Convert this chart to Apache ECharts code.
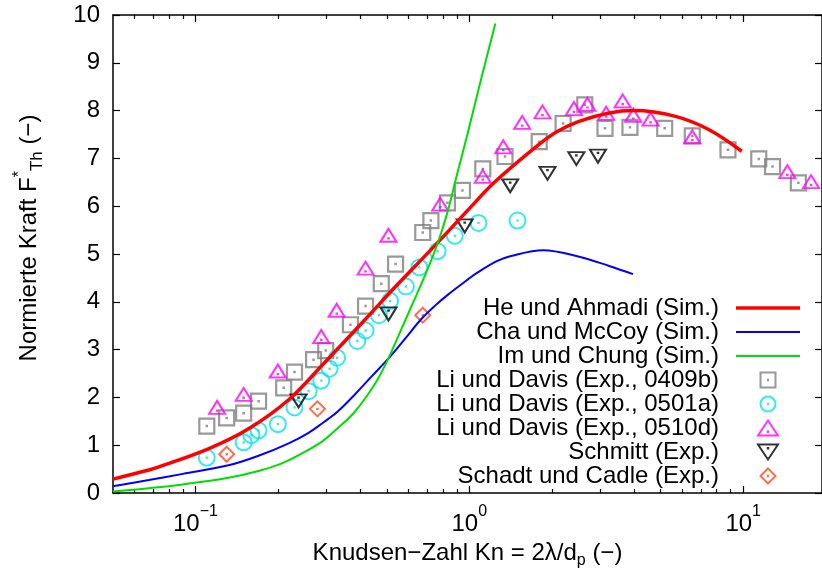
<!DOCTYPE html>
<html>
<head>
<meta charset="utf-8">
<script src="https://cdn.jsdelivr.net/npm/echarts@6/dist/echarts.min.js"></script>
<style>
html,body{margin:0;padding:0;background:#fff}
#chart{width:822px;height:574px}
</style>
</head>
<body>
<div id="chart"></div>
<script>
// Knudsen number / normalised force
var heAhmadiKn = [0.05,0.0676,0.074,0.112,0.157,0.219,0.293,0.415,0.538,0.741,1.0,1.23,1.76,2.08,2.5,3.24,4.0,5.66,7.51,9.88];
var heAhmadiF  = [0.29,0.48,0.55,0.93,1.35,1.95,2.70,3.62,4.32,5.15,5.95,6.49,7.25,7.55,7.77,7.95,8.00,7.88,7.60,7.15];

var chaMcCoyKn = [0.05,0.0676,0.09,0.132,0.17,0.219,0.259,0.289,0.33,0.382,0.44,0.506,0.585,0.668,0.75,0.836,0.989,1.07,1.26,1.42,1.86,2.46,3.24,3.96];
var chaMcCoyF  = [0.14,0.27,0.40,0.58,0.78,1.04,1.26,1.45,1.70,2.06,2.44,2.81,3.24,3.64,3.92,4.15,4.47,4.61,4.85,4.96,5.08,4.96,4.75,4.58];

var imChungKn = [0.05,0.0676,0.09,0.132,0.17,0.207,0.238,0.289,0.33,0.382,0.452,0.506,0.565,0.632,0.697,0.766,0.83,0.90,0.984,1.1,1.245];
var imChungF  = [0.03,0.10,0.18,0.32,0.46,0.62,0.79,1.07,1.35,1.70,2.28,2.81,3.43,4.06,4.62,5.22,5.85,6.64,7.50,8.62,9.82];

var li0409bKn = [0.110,0.130,0.150,0.170,0.210,0.230,0.270,0.299,0.368,0.418,0.477,0.538,0.676,0.724,0.832,0.944,1.12,1.35,1.80,2.20,2.64,3.13,3.86,5.17,6.52,8.80,11.4,12.8,15.9];
var li0409bF  = [1.40,1.57,1.67,1.92,2.20,2.53,2.79,2.98,3.52,3.91,4.38,4.79,5.45,5.70,6.07,6.33,6.78,7.04,7.35,7.73,8.12,7.63,7.65,7.63,7.47,7.18,6.99,6.83,6.49];

var li0501aKn = [0.110,0.150,0.160,0.170,0.200,0.230,0.259,0.288,0.309,0.329,0.390,0.418,0.468,0.514,0.587,0.657,0.766,0.885,1.08,1.50];
var li0501aF  = [0.74,1.06,1.21,1.31,1.44,1.79,2.13,2.35,2.60,2.83,3.18,3.40,3.72,4.02,4.32,4.72,5.06,5.38,5.65,5.70];

var li0510dKn = [0.120,0.150,0.200,0.288,0.328,0.418,0.507,0.783,1.12,1.33,1.56,1.85,2.41,2.70,3.16,3.63,3.97,4.59,6.52,14.5,17.7];
var li0510dF  = [1.73,2.00,2.49,3.21,3.76,4.64,5.33,5.98,6.56,7.18,7.69,7.91,7.98,8.07,7.88,8.14,7.84,7.76,7.39,6.66,6.45];

var schmittKn = [0.238,0.507,0.962,1.41,1.93,2.46,2.95];
var schmittF  = [1.99,3.81,5.65,6.49,6.75,7.06,7.11];

var schadtKn = [0.130,0.279,0.676];
var schadtF  = [0.81,1.76,3.72];

var xMajorTicks = [0.1, 1, 10];
var xMinorTicks = [0.06,0.07,0.08,0.09,0.2,0.3,0.4,0.5,0.6,0.7,0.8,0.9,2,3,4,5,6,7,8,9];
var xMin = 0.05, xMax = 19.4;

function pairs(xs, ys) {
    var out = [];
    for (var i = 0; i < xs.length; i++) out.push([xs[i], ys[i]]);
    return out;
}

var font = '"Liberation Sans", Arial, sans-serif';
var fs = 24;

// hollow gnuplot-like markers with a centre dot
var symSquare  = 'path://M0,0H20V20H0Z M9.8,9.8H10.2V10.2H9.8Z';
var symCircle  = 'path://M0,10A10,10 0 1,0 20,10A10,10 0 1,0 0,10Z M9.8,9.8H10.2V10.2H9.8Z';
var symTri     = 'path://M0,12L8,0L16,12Z M7.8,8.8H8.2V9.2H7.8Z';
var symTriDown = 'path://M0,0L16,0L8,12Z M7.8,2.8H8.2V3.2H7.8Z';
var symDiamond = 'path://M7,0L14,7L7,14L0,7Z M6.8,6.8H7.2V7.2H6.8Z';

function logAxis(pos, ticks, len, main) {
    return {
        type: 'log', logBase: 10, min: xMin, max: xMax, position: pos,
        axisLine: {show: main, onZero: false, lineStyle: {color: '#000', width: 1.5}},
        axisTick: {show: true, inside: true, length: len, customValues: ticks, lineStyle: {color: '#000', width: 1.2}},
        axisLabel: {show: false},
        splitLine: {show: false}, minorTick: {show: false}, minorSplitLine: {show: false}
    };
}

var xBottom = logAxis('bottom', xMajorTicks, 7, true);
xBottom.axisLabel = {
    show: true, customValues: xMajorTicks, margin: 11,
    formatter: function (v) {
        var e = Math.round(Math.log(v) / Math.LN10);
        return '{b|10}{e|' + (e < 0 ? '\u2212' + (-e) : e) + '}';
    },
    rich: {
        b: {fontSize: fs, fontFamily: font, color: '#000', lineHeight: 32, verticalAlign: 'bottom'},
        e: {fontSize: 16, fontFamily: font, color: '#000', lineHeight: 32, verticalAlign: 'top'}
    }
};
xBottom.name = '{n|Knudsen\u2212Zahl Kn = 2\u03bb/d}{s|p}{n| (\u2212)}';
xBottom.nameLocation = 'middle';
xBottom.nameGap = 44;
xBottom.nameTextStyle = {
    rich: {
        n: {fontSize: fs, fontFamily: font, color: '#000', lineHeight: 32, verticalAlign: 'middle'},
        s: {fontSize: 16, fontFamily: font, color: '#000', lineHeight: 32, verticalAlign: 'bottom'}
    }
};

function lineLegend(name, h) {
    return {name: name, icon: 'path://M0,0H64V' + h + 'H0Z', itemStyle: {borderWidth: 0}};
}

var option = {
    animation: false,
    textStyle: {fontFamily: font},
    grid: {left: 113, right: -2, top: 15, bottom: 79, containLabel: false},
    legend: {
        orient: 'vertical', right: 17, top: 291, align: 'right',
        itemWidth: 64, itemHeight: 15, itemGap: 0,
        selectedMode: false,
        textStyle: {fontSize: fs, fontFamily: font, color: '#000', lineHeight: 24, padding: [0, 12, 0, 0]},
        data: [lineLegend('He und Ahmadi (Sim.)', 3.5), lineLegend('Cha und McCoy (Sim.)', 2),
               lineLegend('Im und Chung (Sim.)', 2),
               'Li und Davis (Exp., 0409b)', 'Li und Davis (Exp., 0501a)', 'Li und Davis (Exp., 0510d)',
               'Schmitt (Exp.)', 'Schadt und Cadle (Exp.)']
    },
    xAxis: [
        xBottom,
        logAxis('bottom', xMinorTicks, 4, false),
        logAxis('top', xMajorTicks, 7, true),
        logAxis('top', xMinorTicks, 4, false)
    ],
    yAxis: [
        {
            type: 'value', min: 0, max: 10, interval: 1, position: 'left',
            axisLine: {show: true, onZero: false, lineStyle: {color: '#000', width: 1.5}},
            axisTick: {show: true, inside: true, length: 7, lineStyle: {color: '#000', width: 1.2}},
            axisLabel: {fontSize: fs, fontFamily: font, color: '#000', margin: 13},
            splitLine: {show: false},
            name: '{n|Normierte Kraft F}{sup|*}{sub|Th}{n| (\u2212)}',
            nameLocation: 'middle', nameRotate: 90, nameGap: 67,
            nameTextStyle: {
                padding: [0, 0, 0, 32],
                rich: {
                    n: {fontSize: fs, fontFamily: font, color: '#000', lineHeight: 34, verticalAlign: 'middle'},
                    sup: {fontSize: 16, fontFamily: font, color: '#000', lineHeight: 34, verticalAlign: 'top'},
                    sub: {fontSize: 17, fontFamily: font, color: '#000', lineHeight: 34, verticalAlign: 'bottom'}
                }
            }
        },
        {
            type: 'value', min: 0, max: 10, interval: 1, position: 'right',
            axisLine: {show: true, onZero: false, lineStyle: {color: '#000', width: 1.5}},
            axisTick: {show: true, inside: true, length: 7, lineStyle: {color: '#000', width: 1.2}},
            axisLabel: {show: false},
            splitLine: {show: false}
        }
    ],
    series: [
        {name: 'He und Ahmadi (Sim.)', type: 'line', smooth: 0.35, symbol: 'none',
         lineStyle: {color: '#ff0000', width: 3.5}, itemStyle: {color: '#ff0000'},
         data: pairs(heAhmadiKn, heAhmadiF)},
        {name: 'Cha und McCoy (Sim.)', type: 'line', smooth: 0.35, symbol: 'none',
         lineStyle: {color: '#0000ff', width: 2}, itemStyle: {color: '#0000ff'},
         data: pairs(chaMcCoyKn, chaMcCoyF)},
        {name: 'Im und Chung (Sim.)', type: 'line', smooth: 0.35, symbol: 'none',
         lineStyle: {color: '#00dd00', width: 2}, itemStyle: {color: '#00dd00'},
         data: pairs(imChungKn, imChungF)},
        {name: 'Li und Davis (Exp., 0409b)', type: 'scatter', symbol: symSquare, symbolSize: 15,
         itemStyle: {color: 'rgba(0,0,0,0)', borderColor: '#808080', borderWidth: 2.2},
         data: pairs(li0409bKn, li0409bF)},
        {name: 'Li und Davis (Exp., 0501a)', type: 'scatter', symbol: symCircle, symbolSize: 16,
         itemStyle: {color: 'rgba(0,0,0,0)', borderColor: '#00e5ee', borderWidth: 2},
         data: pairs(li0501aKn, li0501aF)},
        {name: 'Li und Davis (Exp., 0510d)', type: 'scatter', symbol: symTri, symbolSize: [16, 13], symbolOffset: [0, -3],
         itemStyle: {color: 'rgba(0,0,0,0)', borderColor: '#ff00ff', borderWidth: 2},
         data: pairs(li0510dKn, li0510dF)},
        {name: 'Schmitt (Exp.)', type: 'scatter', symbol: symTriDown, symbolSize: [16, 13], symbolOffset: [0, 3],
         itemStyle: {color: 'rgba(0,0,0,0)', borderColor: '#000000', borderWidth: 2},
         data: pairs(schmittKn, schmittF)},
        {name: 'Schadt und Cadle (Exp.)', type: 'scatter', symbol: symDiamond, symbolSize: 15,
         itemStyle: {color: 'rgba(0,0,0,0)', borderColor: '#ff4a1a', borderWidth: 2},
         data: pairs(schadtKn, schadtF)}
    ]
};

var chart = echarts.init(document.getElementById('chart'), null, {renderer: 'canvas'});
chart.setOption(option);
</script>
</body>
</html>
